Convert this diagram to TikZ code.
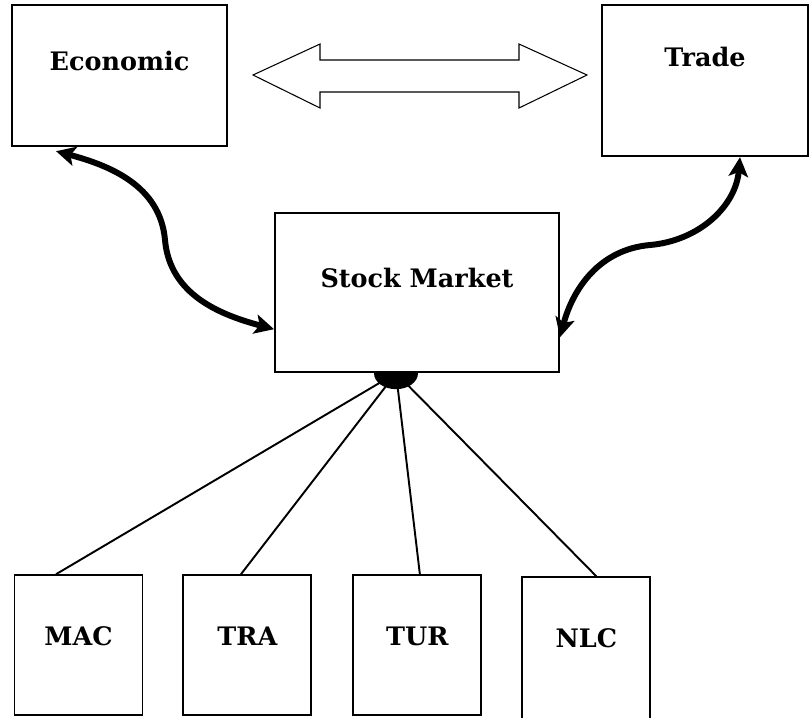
\documentclass[tikz,border=0pt]{standalone}
\usepackage{fontspec}
\setmainfont{DejaVu Serif}
\usetikzlibrary{positioning, arrows.meta}
\tikzstyle{block} = [
    rectangle,
    draw=black,
    line width=1.1pt,
    inner sep=0pt,
    anchor=base,
    font=\fontsize{14.5}{17}\selectfont\bfseries
]
\tikzstyle{smallblock} = [
    block,
    minimum width=2.56cm,
    text height=1.41cm,
    text depth=1.39cm
]
\tikzstyle{curvy} = [
    line width=3.4pt,
    {Stealth[length=11pt,width=11pt,inset=2.5pt]}-{Stealth[length=11pt,width=11pt,inset=2.5pt]}
]
\tikzstyle{spoke} = [line width=1.1pt]

\begin{document}
\begin{tikzpicture}
\useasboundingbox (0,0) rectangle (16.2,-14.34);

\node (eco) [block, minimum width=4.3cm, text height=1.31cm, text depth=1.51cm]
    at (2.39,-1.414) {Economic};
\node (trade) [block, minimum width=4.12cm, text height=1.23cm, text depth=1.79cm]
    at (14.1,-1.334) {Trade};
\node (stock) [block, minimum width=5.68cm, text height=1.49cm, text depth=1.69cm]
    at (8.34,-5.754) {Stock Market};

\node (mac) [smallblock] at (1.57,-12.914) {MAC};
\node (tra) [smallblock, right=0.78cm of mac] {TRA};
\node (tur) [smallblock, right=0.8cm of tra] {TUR};
\node (nlc) [smallblock, right=0.78cm of tur, text depth=1.59cm, yshift=-0.14cm] {NLC};

% two-way arrow between Economic and Trade
\draw [line width=0.6pt] (5.06,-1.5) -- (6.4,-0.88) -- (6.4,-1.2) -- (10.38,-1.2)
    -- (10.38,-0.88) -- (11.74,-1.5) -- (10.38,-2.16) -- (10.38,-1.84)
    -- (6.4,-1.84) -- (6.4,-2.16) -- cycle;

% curved links
\coordinate (ecobend) at (3.3,-4.8);
\coordinate (tradebend) at (13.0,-4.9);
\draw [curvy] ([xshift=0.9cm, yshift=-0.08cm]eco.south west) to[out=-15, in=95] (ecobend)
    to[out=-85, in=165] ([yshift=-0.73cm]stock.west);
\draw [curvy] ([xshift=0.7cm]trade.south) to[out=-95, in=5] (tradebend)
    to[out=185, in=75] ([yshift=-0.89cm]stock.east);

% spokes to the sectors
\coordinate (hub) at ([xshift=-0.42cm]stock.south);
\draw [spoke] (hub) -- ([xshift=-0.45cm]mac.north);
\draw [spoke] (hub) -- ([xshift=-0.13cm]tra.north);
\draw [spoke] (hub) -- ([xshift=0.05cm]tur.north);
\draw [spoke] (hub) -- ([xshift=0.2cm]nlc.north);
\fill (hub) ++(-0.44,0) arc[start angle=180, end angle=360, x radius=0.44cm, y radius=0.32cm] -- cycle;

\end{tikzpicture}
\end{document}
